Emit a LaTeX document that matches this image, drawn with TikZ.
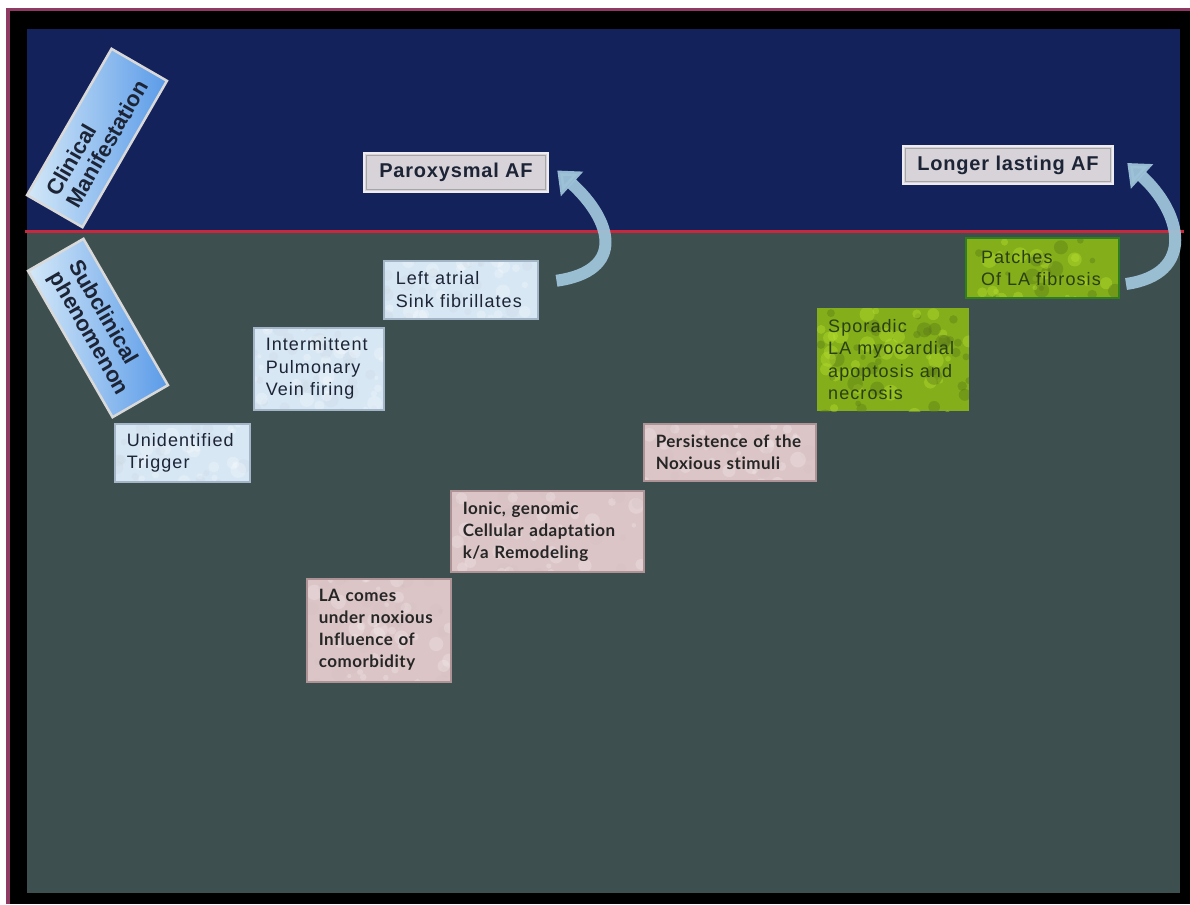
\documentclass[tikz,border=0pt]{standalone}
\usepackage{fontspec}
\setmainfont{Liberation Sans}
\newfontfamily\boxfont[LetterSpace=6]{Liberation Sans}
\newfontfamily\headfont[LetterSpace=4]{Liberation Sans}
\newfontfamily\pinkfont[LetterSpace=3,Ligatures=NoCommon]{Lato}
\usetikzlibrary{arrows.meta,calc}

\definecolor{frameline}{HTML}{8E3A62}
\definecolor{topnavy}{HTML}{14225C}
\definecolor{lowslate}{HTML}{3E4F50}
\definecolor{splitred}{HTML}{C8283E}
\definecolor{inknavy}{HTML}{1C2436}
\definecolor{paleblue}{HTML}{D8E7F4}
\definecolor{paleedge}{HTML}{A3B5C6}
\definecolor{palepink}{HTML}{DCC5C7}
\definecolor{pinkedge}{HTML}{AD9296}
\definecolor{mossgreen}{HTML}{84AE1A}
\definecolor{mosslight}{HTML}{B8E030}
\definecolor{mossdark}{HTML}{5A7A18}
\definecolor{mossink}{HTML}{2A3F12}
\definecolor{mossedge}{HTML}{2F7F1E}
\definecolor{tagfill}{HTML}{D7D3D9}
\definecolor{tagedge}{HTML}{EEECF0}
\definecolor{tilelight}{HTML}{D4E8F8}
\definecolor{tileblue}{HTML}{5A9BE8}
\definecolor{curvearrow}{HTML}{9EC3D8}

\pgfmathsetseed{11}
\tikzset{
  mottle/.style n args={3}{path picture={
    \foreach \k in {1,...,36}{
      \pgfmathsetmacro{\u}{rnd}\pgfmathsetmacro{\v}{110*rnd}\pgfmathsetmacro{\r}{2+6*rnd}
      \fill[#1,opacity=#3] ($(path picture bounding box.north west)!\u!(path picture bounding box.north east)$) ++(0,\v) circle (\r pt);
      \pgfmathsetmacro{\u}{rnd}\pgfmathsetmacro{\v}{110*rnd}\pgfmathsetmacro{\r}{2+6*rnd}
      \fill[#2,opacity=#3] ($(path picture bounding box.north west)!\u!(path picture bounding box.north east)$) ++(0,\v) circle (\r pt);
    }}},
  stage/.style={anchor=north west, inner xsep=12pt, align=left,
    font=\boxfont\fontsize{18}{22.5}\selectfont, text=inknavy},
  trigbox/.style={stage, fill=paleblue, draw=paleedge, line width=1.5pt,
    mottle={white}{paleblue!85!gray}{.25}},
  harmbox/.style={stage, fill=palepink, draw=pinkedge, line width=1.5pt,
    font=\pinkfont\bfseries\fontsize{17}{22}\selectfont, text=black!85,
    mottle={white}{palepink!85!gray}{.2}},
  scarbox/.style={stage, fill=mossgreen, text=mossink,
    mottle={mosslight}{mossdark}{.4}},
  tag/.style={fill=tagfill, draw=tagedge, line width=2.5pt, text=inknavy,
    font=\headfont\bfseries\fontsize{20}{24}\selectfont},
  tile/.style={left color=tilelight, right color=tileblue, draw=gray!30,
    line width=2.5pt, align=left, text=inknavy, minimum width=169pt,
    minimum height=64pt, font=\bfseries\fontsize{22}{23}\selectfont},
  riseline/.style={draw=curvearrow, line width=12pt, opacity=.95,
    -{Triangle[width=32pt,length=20pt]}}
}

\begin{document}
\begin{tikzpicture}[x=1pt,y=-1pt]
\useasboundingbox (0,0) rectangle (1190,904);
% frame and the two bands
\fill[white] (0,0) rectangle (1190,904);
\fill[frameline] (6,8) rectangle (1190,904);
\fill[black] (10,11) rectangle (1190,904);
\fill[topnavy] (27,29) rectangle (1180,231);
\fill[lowslate] (27,231) rectangle (1180,893);
\draw[splitred, line width=3pt] (25,231) -- (1184,231);

% side tiles
\node[tile, rotate=60] (clin) at (97,138) {Clinical\\Manifestation};
\node[tile, rotate=-60] (subc) at (98,328) {Subclinical\\phenomenon};

% trigger steps
\node[trigbox, minimum height=58pt, text width=111pt] (trig) at (114,423) {Unidentified\\Trigger};
\node[trigbox, minimum height=82pt, text width=106pt] (pulm) at (253,327) {Intermittent\\Pulmonary\\Vein firing};
\node[trigbox, minimum height=58pt, text width=130pt] (sink) at (383,260) {Left atrial\\Sink fibrillates};

% remodeling steps
\node[harmbox, minimum height=103pt, text width=120pt] (como) at (306,578) {LA comes\\under noxious\\Influence of\\comorbidity};
\node[harmbox, minimum height=81pt, text width=169pt] (ionic) at (450,490) {Ionic, genomic\\Cellular adaptation\\k/a Remodeling};
\node[harmbox, minimum height=57pt, text width=160pt, inner xsep=6pt] (persist) at (643,423) {\hspace*{6pt}Persistence of the\\\hspace*{6pt}Noxious stimuli};

% fibrosis steps
\node[scarbox, minimum height=103pt, text width=130pt, inner xsep=11pt] (spor) at (817,308) {Sporadic\\LA myocardial\\apoptosis and\\necrosis};
\node[scarbox, draw=mossedge, line width=2pt, minimum height=60pt, text width=123pt, inner xsep=15pt] (patch) at (965,237) {Patches\\Of LA fibrosis};

% clinical outcomes
\node[tag, minimum width=184pt, minimum height=39pt] (parox) at (456,172.5) {Paroxysmal AF};
\node[tag, minimum width=210pt, minimum height=38pt] (longer) at (1008,165) {Longer lasting AF};
\foreach \n in {parox,longer}
  \draw[gray!70, line width=0.8pt] ([shift={(4pt,-4pt)}]\n.north west) rectangle ([shift={(-4pt,4pt)}]\n.south east);

\draw[riseline] ([xshift=18pt,yshift=9pt]sink.east) .. controls +(70,-10) and +(55,50) .. ([xshift=8pt,yshift=2pt]parox.east);
\draw[riseline] ([xshift=6pt,yshift=-16pt]patch.east) .. controls +(70,-10) and +(55,50) .. ([xshift=13pt,yshift=2pt]longer.east);
\end{tikzpicture}
\end{document}
